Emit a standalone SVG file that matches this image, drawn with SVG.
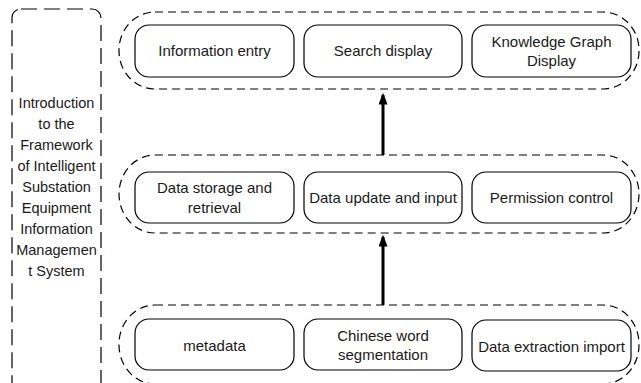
<svg xmlns="http://www.w3.org/2000/svg" width="641" height="383" viewBox="0 0 641 383">
  <style>
    .frame { fill: none; stroke: #000; stroke-width: 1.2; stroke-dasharray: 16 7; }
    .layer { fill: none; stroke: #000; stroke-width: 1.2; stroke-dasharray: 8 5; }
    .box { fill: #fff; stroke: #000; stroke-width: 1.2; }
    .lbl { font-family: "Liberation Sans", Arial, sans-serif; font-size: 15px; fill: #1a1a1a; text-anchor: middle; }
    .side { font-family: "Liberation Sans", Arial, sans-serif; font-size: 14.5px; fill: #1a1a1a; text-anchor: middle; }
    .link { stroke: #000; stroke-width: 3; fill: none; }
  </style>
  <defs>
    <marker id="head" markerWidth="4" markerHeight="3" refX="3.2" refY="1.5" orient="auto" markerUnits="strokeWidth">
      <path d="M0,0 L4,1.5 L0,3 Z" fill="#000"/>
    </marker>
  </defs>
  <rect width="641" height="383" fill="#fff"/>

  <!-- system frame on the left -->
  <g id="system-frame">
    <rect class="frame" x="12" y="9" width="89" height="400" rx="9"/>
    <text class="side" x="56.5" y="108">Introduction</text>
    <text class="side" x="56.5" y="129">to the</text>
    <text class="side" x="56.5" y="150">Framework</text>
    <text class="side" x="56.5" y="171">of Intelligent</text>
    <text class="side" x="56.5" y="192">Substation</text>
    <text class="side" x="56.5" y="213">Equipment</text>
    <text class="side" x="56.5" y="234">Information</text>
    <text class="side" x="56.5" y="255">Managemen</text>
    <text class="side" x="56.5" y="276">t System</text>
  </g>

  <!-- layer outlines -->
  <g id="layer-top"><rect class="layer" x="119" y="12" width="520" height="77" rx="36" ry="38"/></g>
  <g id="layer-middle"><rect class="layer" x="119" y="155" width="520" height="78" rx="36" ry="39"/></g>
  <g id="layer-bottom"><rect class="layer" x="119" y="305" width="520" height="79" rx="36" ry="39"/></g>

  <!-- top layer -->
  <g id="information-entry">
    <rect class="box" x="135" y="25" width="159" height="52" rx="14"/>
    <text class="lbl" x="214.5" y="56">Information entry</text>
  </g>
  <g id="search-display">
    <rect class="box" x="304" y="25" width="158" height="52" rx="14"/>
    <text class="lbl" x="383" y="56">Search display</text>
  </g>
  <g id="knowledge-graph-display">
    <rect class="box" x="472" y="25" width="159" height="52" rx="14"/>
    <text class="lbl" x="551.5" y="47">Knowledge Graph</text>
    <text class="lbl" x="551.5" y="66">Display</text>
  </g>

  <!-- middle layer -->
  <g id="data-storage">
    <rect class="box" x="135" y="172" width="159" height="51" rx="14"/>
    <text class="lbl" x="214.5" y="193">Data storage and</text>
    <text class="lbl" x="214.5" y="213">retrieval</text>
  </g>
  <g id="data-update">
    <rect class="box" x="304" y="172" width="158" height="51" rx="14"/>
    <text class="lbl" x="383" y="203">Data update and input</text>
  </g>
  <g id="permission-control">
    <rect class="box" x="472" y="172" width="159" height="51" rx="14"/>
    <text class="lbl" x="551.5" y="203">Permission control</text>
  </g>

  <!-- bottom layer -->
  <g id="metadata">
    <rect class="box" x="135" y="319" width="159" height="51" rx="14"/>
    <text class="lbl" x="214.5" y="351">metadata</text>
  </g>
  <g id="word-segmentation">
    <rect class="box" x="304" y="319" width="158" height="51" rx="14"/>
    <text class="lbl" x="383" y="341">Chinese word</text>
    <text class="lbl" x="383" y="360">segmentation</text>
  </g>
  <g id="data-extraction">
    <rect class="box" x="472" y="320" width="159" height="51" rx="14"/>
    <text class="lbl" x="551.5" y="352">Data extraction import</text>
  </g>

  <!-- connectors between layers -->
  <g id="connectors">
    <line class="link" x1="383" y1="155" x2="383" y2="95" marker-end="url(#head)"/>
    <line class="link" x1="383" y1="305" x2="383" y2="237" marker-end="url(#head)"/>
  </g>
</svg>
